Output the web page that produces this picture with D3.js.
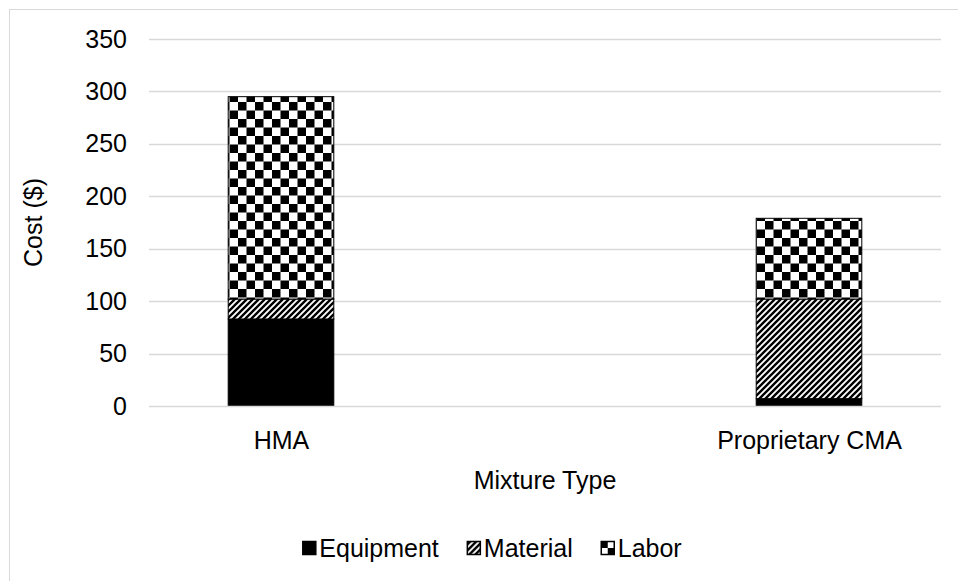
<!DOCTYPE html>
<html>
<head>
<meta charset="utf-8">
<script src="https://cdn.jsdelivr.net/npm/d3@7/dist/d3.min.js"></script>
<style>
  html, body { margin: 0; padding: 0; background: #fff; }
  svg { display: block; font-family: "Liberation Sans", Arial, sans-serif; }
</style>
</head>
<body>
<svg id="chart" width="958" height="581"></svg>
<script>
// Cost breakdown per mixture type
const categories = ["HMA", "Proprietary CMA"];
const seriesNames = ["Equipment", "Material", "Labor"];
const equipment = [83, 7];
const material = [19, 95];
const labor = [193, 77];
const yTicks = [0, 50, 100, 150, 200, 250, 300, 350];

const W = 958, H = 581;
const FS = 25;
const margin = { left: 149, right: 17, top: 39, bottom: 175 };
const svg = d3.select("#chart");

// Fill patterns
const defs = svg.append("defs");
const hatch = defs.append("pattern")
  .attr("id", "hatch").attr("patternUnits", "userSpaceOnUse")
  .attr("width", 6).attr("height", 6);
hatch.append("rect").attr("width", 6).attr("height", 6).attr("fill", "#fff");
hatch.append("path")
  .attr("d", "M-1,7 L7,-1 M-4,4 L4,-4 M2,10 L10,2")
  .attr("stroke", "#000").attr("stroke-width", 2.4);

const cell = 8.5;
const checker = defs.append("pattern")
  .attr("id", "checker").attr("patternUnits", "userSpaceOnUse")
  .attr("width", cell * 2).attr("height", cell * 2);
checker.append("rect").attr("width", cell * 2).attr("height", cell * 2).attr("fill", "#fff");
checker.append("rect").attr("width", cell).attr("height", cell).attr("fill", "#000");
checker.append("rect").attr("x", cell).attr("y", cell).attr("width", cell).attr("height", cell).attr("fill", "#000");

const fills = { Equipment: "#000", Material: "url(#hatch)", Labor: "url(#checker)" };

// Chart frame
svg.append("rect")
  .attr("x", 9.5).attr("y", 9.5).attr("width", 960).attr("height", 600)
  .attr("fill", "none").attr("stroke", "#d9d9d9").attr("stroke-width", 1);

const x = d3.scalePoint().domain(categories)
  .range([margin.left, W - margin.right]).padding(0.25);
const barW = x.step() * 0.2;
const y = d3.scaleLinear().domain([0, 350]).range([H - margin.bottom, margin.top]);

// Gridlines
svg.append("g").selectAll("line").data(yTicks.filter(d => d > 0)).join("line")
  .attr("x1", margin.left).attr("x2", W - margin.right)
  .attr("y1", d => Math.round(y(d)) + 0.5).attr("y2", d => Math.round(y(d)) + 0.5)
  .attr("stroke", "#d9d9d9").attr("stroke-width", 1.3);

// Y axis labels
const yAxis = d3.axisLeft(y).tickValues(yTicks).tickSize(0).tickPadding(22);
const gy = svg.append("g").attr("transform", `translate(${margin.left},0)`).call(yAxis);
gy.select(".domain").remove();
gy.selectAll("text").attr("font-size", FS).attr("fill", "#000")
  .attr("font-family", "Liberation Sans, Arial, sans-serif");

// Stacked bars
const table = categories.map((c, i) => ({
  category: c, Equipment: equipment[i], Material: material[i], Labor: labor[i]
}));
const stacked = d3.stack().keys(seriesNames)(table);
svg.append("g").selectAll("g").data(stacked).join("g")
  .attr("fill", d => fills[d.key])
  .selectAll("rect").data(d => d).join("rect")
  .attr("x", d => x(d.data.category) - barW / 2)
  .attr("y", d => y(d[1]))
  .attr("width", barW)
  .attr("height", d => y(d[0]) - y(d[1]))
  .attr("stroke", "#000").attr("stroke-width", 1);

// X axis baseline and labels
const xAxis = d3.axisBottom(x).tickSize(0).tickPadding(25);
const gx = svg.append("g").attr("transform", `translate(0,${y(0)})`).call(xAxis);
gx.select(".domain").remove();
gx.selectAll("text").attr("font-size", FS).attr("fill", "#000")
  .attr("font-family", "Liberation Sans, Arial, sans-serif");
svg.append("line")
  .attr("x1", margin.left).attr("x2", W - margin.right)
  .attr("y1", y(0) + 0.5).attr("y2", y(0) + 0.5)
  .attr("stroke", "#d9d9d9").attr("stroke-width", 1.5);

// Axis titles
svg.append("text")
  .attr("x", (margin.left + W - margin.right) / 2).attr("y", 489)
  .attr("text-anchor", "middle").attr("font-size", FS).text("Mixture Type");
svg.append("text")
  .attr("transform", `translate(42,${(y(0) + y(350)) / 2}) rotate(-90)`)
  .attr("text-anchor", "middle").attr("font-size", FS).text("Cost ($)");

// Legend
const legend = svg.append("g");
const gap = 28;
let cx = 0;
seriesNames.forEach(name => {
  const g = legend.append("g").attr("transform", `translate(${cx},0)`);
  g.append("rect").attr("x", 0.5).attr("y", -15.5).attr("width", 13).attr("height", 13)
    .attr("fill", name === "Labor" ? "#fff" : fills[name])
    .attr("stroke", "#000").attr("stroke-width", 1.5);
  if (name === "Labor") {
    g.append("rect").attr("x", 0.5).attr("y", -15.5).attr("width", 6.5).attr("height", 6.5).attr("fill", "#000");
    g.append("rect").attr("x", 7).attr("y", -9).attr("width", 6.5).attr("height", 6.5).attr("fill", "#000");
  }
  const t = g.append("text").attr("x", 17).attr("y", 0).attr("font-size", FS).text(name);
  cx += 17 + t.node().getComputedTextLength() + gap;
});
const legendW = cx - gap;
legend.attr("transform", `translate(${492 - legendW / 2},557)`);
</script>
</body>
</html>
